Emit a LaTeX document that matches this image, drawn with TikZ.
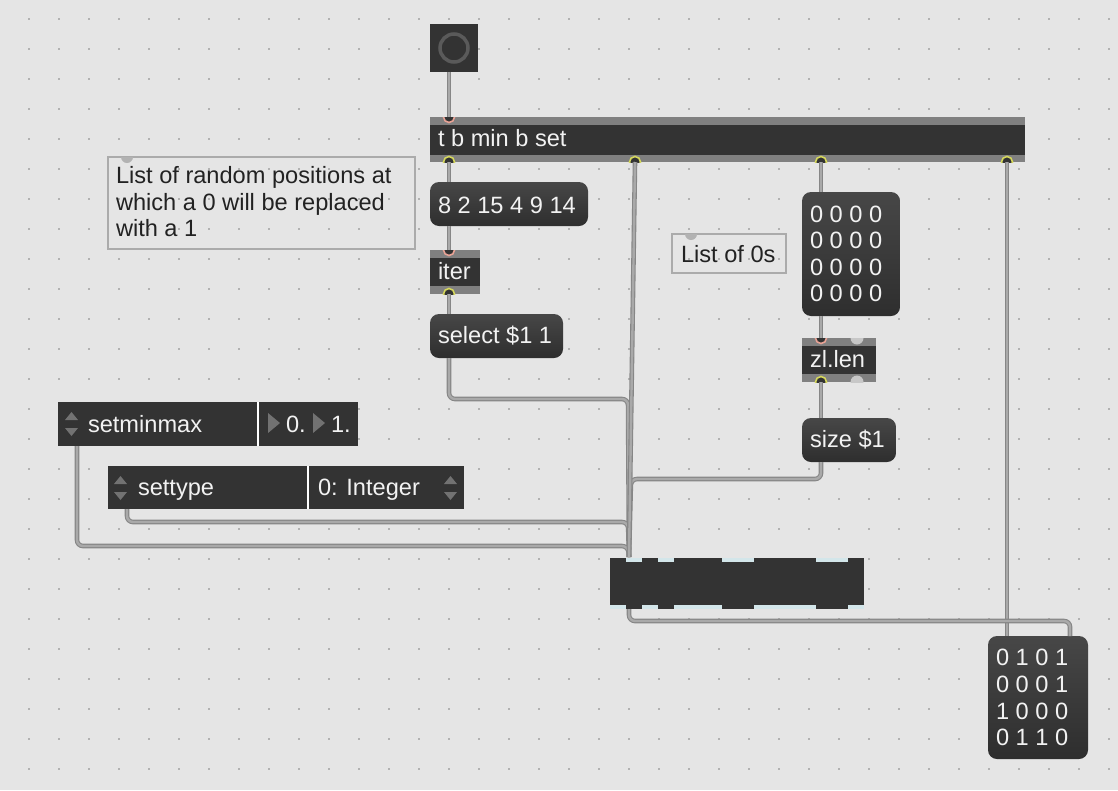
\documentclass[tikz,border=0pt]{standalone}
\usepackage{fontspec}
\setmainfont{Liberation Sans}
\definecolor{bg}{HTML}{E5E5E5}
\definecolor{dotc}{HTML}{B2B2B2}
\definecolor{objdark}{HTML}{333333}
\definecolor{objgrey}{HTML}{808080}
\definecolor{msgtop}{HTML}{474747}
\definecolor{msgbot}{HTML}{2E2E2E}
\definecolor{wireout}{HTML}{868686}
\definecolor{wirein}{HTML}{A9A9A9}
\definecolor{inring}{HTML}{E9A396}
\definecolor{outring}{HTML}{D6D85C}
\definecolor{arrowg}{HTML}{727272}
\definecolor{cmtborder}{HTML}{ABABAB}
\definecolor{cmttext}{HTML}{222222}
\definecolor{mscyan}{HTML}{D3E6EA}
\definecolor{btnring}{HTML}{5A5A5A}
\definecolor{txtwhite}{HTML}{F2F2F2}
\tikzset{
  box/.style={anchor=north west, inner sep=0pt, outer sep=0pt},
  objbox/.style={box, fill=objgrey},
  msgbox/.style={box, rounded corners=9pt, top color=msgtop, bottom color=msgbot},
  uibox/.style={box, fill=objdark},
  cmtbox/.style={box, draw=cmtborder, line width=1.5pt},
  txt/.style={anchor=base west, inner sep=0pt, outer sep=0pt, text=txtwhite, font=\fontsize{23.6}{27}\selectfont},
  ctxt/.style={txt, text=cmttext},
  wire/.style={draw=wireout, double=wirein, double distance=2.4pt, line width=1.1pt, rounded corners=6pt},
  portin/.style={draw=inring, fill=objdark, line width=1.6pt},
  portout/.style={draw=outring, fill=objdark, line width=1.6pt},
}
\begin{document}
\begin{tikzpicture}[x=1pt,y=-1pt]
\fill[bg] (0,0) rectangle (1118,790);
\useasboundingbox (0,0) rectangle (1118,790);
\foreach \i in {0,...,37}{\foreach \j in {0,...,25}{
  \fill[dotc] ({30*\i-2},{30*\j+18}) rectangle ++(2,2);}}

% ---------- boxes ----------
\node[uibox, minimum width=48pt, minimum height=48pt] (btn) at (430,24) {};
\draw[btnring, line width=3.5pt] (454,48) circle[radius=14pt];

\node[objbox, minimum width=595pt, minimum height=45pt] (trig) at (430,117) {};
\fill[objdark] (430,125) rectangle (1025,155);
\node[txt] (trigT) at (438,146) {t b min b set};

\node[cmtbox, minimum width=307pt, minimum height=92pt] (cmt1) at (108,157) {};
\node[ctxt] (cmt1a) at (116,183) {List of random positions at};
\node[ctxt] (cmt1b) at (116,210) {which a 0 will be replaced};
\node[ctxt] (cmt1c) at (116,236) {with a 1};

\node[msgbox, minimum width=158pt, minimum height=44pt] (lst) at (430,182) {};
\node[txt] (lstT) at (438,213) {8 2 15 4 9 14};

\node[objbox, minimum width=50pt, minimum height=44pt] (iter) at (430,250) {};
\fill[objdark] (430,258) rectangle (480,286);
\node[txt] (iterT) at (438,279) {iter};

\node[msgbox, minimum width=133pt, minimum height=44pt] (sel) at (430,314) {};
\node[txt] (selT) at (438,343) {select \$1 1};

\node[cmtbox, minimum width=114pt, minimum height=39pt] (cmt2) at (672,234) {};
\node[ctxt] (cmt2T) at (681,262) {List of 0s};

\node[msgbox, minimum width=98pt, minimum height=124pt] (zer) at (802,192) {};
\node[txt] (zerA) at (810,222) {0 0 0 0};
\node[txt] (zerB) at (810,248) {0 0 0 0};
\node[txt] (zerC) at (810,275) {0 0 0 0};
\node[txt] (zerD) at (810,301) {0 0 0 0};

\node[objbox, minimum width=74pt, minimum height=44pt] (zl) at (802,338) {};
\fill[objdark] (802,346) rectangle (876,374);
\node[txt] (zlT) at (810,367) {zl.len};

\node[msgbox, minimum width=94pt, minimum height=44pt] (siz) at (802,418) {};
\node[txt] (sizT) at (810,447) {size \$1};

\node[uibox, minimum width=199pt, minimum height=44pt] (smm) at (58,402) {};
\node[uibox, minimum width=99pt, minimum height=44pt] (smv) at (259,402) {};
\draw[white, line width=1.5pt] (258,402) -- (258,446);
\fill[arrowg] (65,420) -- (78,420) -- (71.5,412) -- cycle;
\fill[arrowg] (65,428) -- (78,428) -- (71.5,436) -- cycle;
\node[txt] (smmT) at (88,432) {setminmax};
\fill[arrowg] (268,413) -- (280,423) -- (268,433) -- cycle;
\node[txt] (smv0) at (286,432) {0.};
\fill[arrowg] (313,413) -- (325,423) -- (313,433) -- cycle;
\node[txt] (smv1) at (331,432) {1.};

\node[uibox, minimum width=199pt, minimum height=43pt] (sty) at (108,466) {};
\node[uibox, minimum width=155pt, minimum height=43pt] (stv) at (309,466) {};
\draw[white, line width=1.5pt] (308,466) -- (308,509);
\fill[arrowg] (114,484) -- (127,484) -- (120.5,476) -- cycle;
\fill[arrowg] (114,492) -- (127,492) -- (120.5,500) -- cycle;
\node[txt] (styT) at (138,495) {settype};
\node[txt] (stvT) at (318,495) {0: Integer};
\fill[arrowg] (444,484) -- (457,484) -- (450.5,476) -- cycle;
\fill[arrowg] (444,492) -- (457,492) -- (450.5,500) -- cycle;

\node[uibox, minimum width=254pt, minimum height=51pt] (ms) at (610,558) {};
\foreach \a/\b in {626/642,658/674,722/754,816/848}
  \fill[mscyan] (\a,558) rectangle (\b,562);
\foreach \a/\b in {610/626,642/658,674/722,754/816,848/864}
  \fill[mscyan] (\a,605) rectangle (\b,609);

\node[msgbox, minimum width=100pt, minimum height=123pt] (res) at (988,636) {};
\node[txt] (resA) at (996,665) {0 1 0 1};
\node[txt] (resB) at (996,692) {0 0 0 1};
\node[txt] (resC) at (996,719) {1 0 0 0};
\node[txt] (resD) at (996,745) {0 1 1 0};

% ---------- ports ----------
\coordinate (btn-o) at (449,72);
\coordinate (trig-i) at (449,117);
\coordinate (trig-o1) at (449,162);
\coordinate (trig-o2) at (635,162);
\coordinate (trig-o3) at (821,162);
\coordinate (trig-o4) at (1007,162);
\coordinate (lst-i) at (449,182);
\coordinate (lst-o) at (449,226);
\coordinate (iter-i) at (449,250);
\coordinate (iter-o) at (449,294);
\coordinate (sel-i) at (449,314);
\coordinate (sel-o) at (449,358);
\coordinate (zer-i) at (821,192);
\coordinate (zer-o) at (821,316);
\coordinate (zl-i) at (821,338);
\coordinate (zl-i2) at (857,338);
\coordinate (zl-o) at (821,382);
\coordinate (zl-o2) at (857,382);
\coordinate (siz-i) at (821,418);
\coordinate (siz-o) at (821,462);
\coordinate (smm-o) at (77,446);
\coordinate (sty-o) at (127,509);
\coordinate (ms-i) at (629,557);
\coordinate (ms-o) at (629,609);
\coordinate (res-i) at (1007,636);
\coordinate (res-i2) at (1070,636);

\begin{scope}
\clip (430,117) rectangle (1025,162);
\filldraw[portin] (trig-i) circle[radius=5.5pt];
\foreach \p in {trig-o1,trig-o2,trig-o3,trig-o4}
  \filldraw[portout] (\p) circle[radius=5.5pt];
\end{scope}
\begin{scope}
\clip (430,250) rectangle (480,294);
\filldraw[portin] (iter-i) circle[radius=5.5pt];
\filldraw[portout] (iter-o) circle[radius=5.5pt];
\end{scope}
\begin{scope}
\clip (802,338) rectangle (876,382);
\filldraw[portin] (zl-i) circle[radius=5.5pt];
\filldraw[portout] (zl-o) circle[radius=5.5pt];
\fill[black!22] (zl-i2) circle[radius=6.5pt];
\fill[black!22] (zl-o2) circle[radius=6.5pt];
\end{scope}
\begin{scope}
\clip (108,157) rectangle (415,249);
\fill[black!30] (127,157) circle[radius=6pt];
\end{scope}
\begin{scope}
\clip (672,234) rectangle (786,273);
\fill[black!30] (691,234) circle[radius=6pt];
\end{scope}

% ---------- wires ----------
\draw[wire] (btn-o) -- (trig-i);
\draw[wire] (trig-o1) -- (lst-i);
\draw[wire] (lst-o) -- (iter-i);
\draw[wire] (iter-o) -- (sel-i);
\draw[wire] (trig-o3) -- (zer-i);
\draw[wire] (zer-o) -- (zl-i);
\draw[wire] (zl-o) -- (siz-i);
\draw[wire] (sel-o) -- (449,399) -- (628,399) -- (ms-i);
\draw[wire] (sty-o) -- (127,522) -- (628,522) -- (ms-i);
\draw[wire] (smm-o) -- (77,546) -- (628,546) -- (ms-i);
\draw[wire] (siz-o) -- (821,479) -- (631,479) -- (ms-i);
\draw[wire] (trig-o2) -- (ms-i);
\draw[wire] (trig-o4) -- (res-i);
\draw[wire] (ms-o) -- (629,621) -- (1070,621) -- (res-i2);
\end{tikzpicture}
\end{document}
